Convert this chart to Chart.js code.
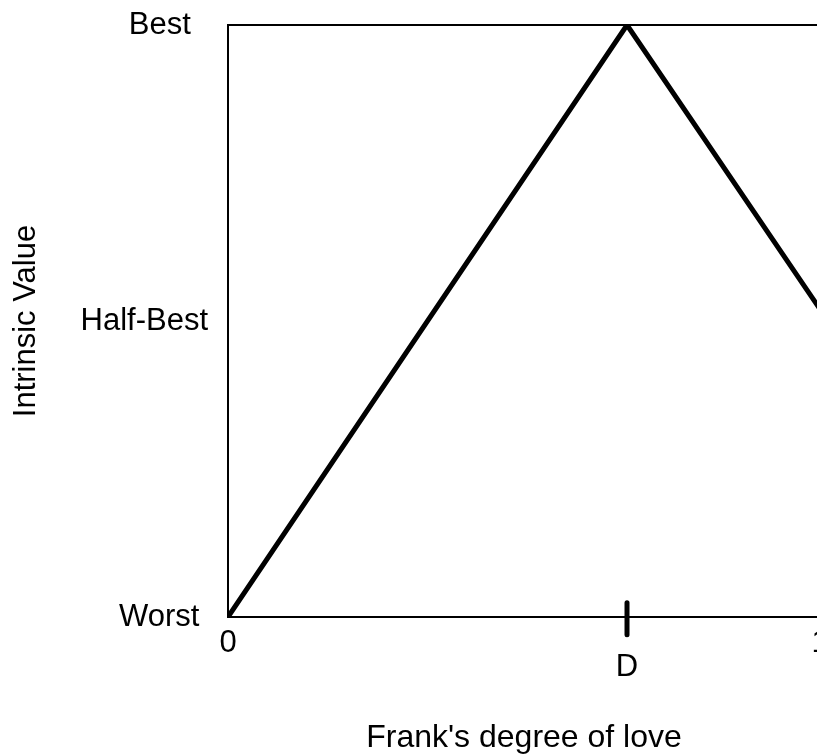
<!DOCTYPE html>
<html>
<head>
<meta charset="utf-8">
<script src="https://cdn.jsdelivr.net/npm/chart.js@4"></script>
<style>
  html, body { margin: 0; padding: 0; overflow: hidden; background: #fff; }
  canvas { display: block; }
</style>
</head>
<body>
<canvas id="loveChart" width="844" height="755"></canvas>
<script>
// values (x: 0..1, y: Worst=0 .. Best=1)
const loveX = [0, 0.674, 1];
const valueY = [0, 1, 0.52];

const xTickValues = [0, 0.674, 1];
const xTickLabels = ["0", "D", "1"];
const yTickValues = [0, 0.5, 1];
const yTickLabels = ["Worst", "Half-Best", "Best"];

// small marker on the x axis at D
const dMarkY = [-0.03, 0.024];

const fontFamily = "'Liberation Sans', Arial, Helvetica, sans-serif";

// trailing spaces nudge the y labels like in the picture
const yLabelShift = { Best: 2, Worst: 1 };

const frame = {
  id: "frame",
  beforeDatasetsDraw(chart) {
    const { ctx, chartArea: a } = chart;
    ctx.save();
    ctx.strokeStyle = "#000";
    ctx.lineWidth = 2;
    ctx.strokeRect(a.left, a.top, a.right - a.left, a.bottom - a.top);
    ctx.restore();
  },
};

let ctx = document.getElementById("loveChart").getContext("2d");

new Chart(ctx, {
  type: "scatter",
  data: {
    datasets: [
      {
        data: loveX.map((x, i) => ({ x: x, y: valueY[i] })),
        showLine: true,
        borderColor: "#000",
        borderWidth: 5,
        pointRadius: 0,
        tension: 0,
      },
      {
        data: dMarkY.map((y) => ({ x: xTickValues[1], y: y })),
        showLine: true,
        borderColor: "#000",
        borderWidth: 5,
        borderCapStyle: "round",
        pointRadius: 0,
        clip: false,
      },
    ],
  },
  options: {
    responsive: false,
    animation: false,
    layout: {
      padding: { top: 25, right: 24, left: 0, bottom: 0 },
    },
    plugins: {
      legend: { display: false },
      tooltip: { enabled: false },
    },
    scales: {
      x: {
        type: "linear",
        min: 0,
        max: 1,
        grid: { display: false, drawTicks: false },
        border: { display: false },
        afterBuildTicks: (scale) => {
          scale.ticks = xTickValues.map((v) => ({ value: v }));
        },
        afterFit: (scale) => {
          scale.height = 755 - 617;
          scale.paddingLeft = 0;
          scale.paddingRight = 0;
        },
        ticks: {
          padding: 15,
          color: "#000",
          font: { family: fontFamily, size: 31, lineHeight: 0.76 },
          callback: (value, index) => {
            const label = xTickLabels[index];
            return index % 2 === 1 ? ["", label] : label;
          },
        },
        title: {
          display: true,
          text: "Frank's degree of love",
          color: "#000",
          font: { family: fontFamily, size: 32, lineHeight: 1 },
          padding: { top: 0, bottom: 1 },
        },
      },
      y: {
        type: "linear",
        min: 0,
        max: 1,
        grid: { display: false, drawTicks: false },
        border: { display: false },
        afterBuildTicks: (scale) => {
          scale.ticks = yTickValues.map((v) => ({ value: v }));
        },
        afterFit: (scale) => {
          scale.width = 228;
          scale.paddingTop = 0;
          scale.paddingBottom = 0;
        },
        ticks: {
          padding: 20,
          color: "#000",
          font: { family: fontFamily, size: 31 },
          callback: (value, index) => {
            const label = yTickLabels[index];
            return label + " ".repeat(yLabelShift[label] || 0);
          },
        },
        title: {
          display: true,
          text: "Intrinsic Value",
          color: "#000",
          font: { family: fontFamily, size: 31, lineHeight: 1 },
          padding: { top: 11, bottom: 0 },
        },
      },
    },
  },
  plugins: [frame],
});
</script>
</body>
</html>
